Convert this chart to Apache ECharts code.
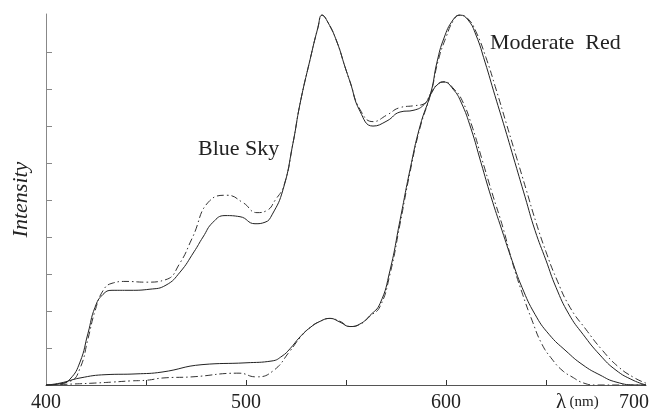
<!DOCTYPE html>
<html>
<head>
<meta charset="utf-8">
<script src="https://cdn.jsdelivr.net/npm/echarts@6/dist/echarts.min.js"></script>
<style>
  html, body { margin: 0; padding: 0; background: #fff; }
  #chart { width: 668px; height: 413px; }
</style>
</head>
<body>
<div id="chart"></div>
<script>
// Blue Sky, measured (solid)
const skyNm = [400, 407, 412, 417, 421, 424.5, 428.5, 433, 442, 452, 460, 467, 474, 478.5, 483.5, 489.5, 497, 504.5, 509.5, 513, 518.5, 523.5, 527, 532, 536, 538, 541, 545.5, 549.5, 552, 557, 563.5, 570.5, 577, 584, 589, 592.5, 595.5, 599, 603.5, 607.5, 612.5, 617.5, 622.5, 628, 633, 638, 644.5, 651.5, 660, 668.5, 677, 685, 695.5, 700]
const skyVal = [0, 0.03, 0.16, 0.62, 1.4, 2.1, 2.45, 2.56, 2.56, 2.59, 2.7, 3.05, 3.6, 4.0, 4.4, 4.58, 4.55, 4.36, 4.4, 4.6, 5.28, 6.54, 7.6, 8.79, 9.67, 10.0, 9.8, 9.27, 8.6, 8.2, 7.4, 7.0, 7.14, 7.38, 7.43, 7.58, 7.87, 8.11, 8.19, 8.0, 7.65, 6.93, 6.01, 5.09, 4.18, 3.37, 2.64, 1.91, 1.37, 0.92, 0.54, 0.27, 0.08, 0, 0]

// Blue Sky, dash-dot
const skyNm2 = [400, 412, 417, 421, 424.5, 428.5, 433, 440, 450, 460, 467, 473, 482, 490.5, 498.5, 505.5, 510.5, 514.5, 519, 523.5, 527, 532, 536, 538, 541, 545.5, 549.5, 552, 557, 563.5, 570.5, 577, 584, 589, 592.5, 595.5, 599, 604, 608, 613, 618, 623, 628.5, 633, 638, 643, 648, 653, 658, 663, 669, 675, 700]
const skyVal2 = [0, 0.1, 0.45, 1.25, 2.0, 2.55, 2.75, 2.8, 2.78, 2.85, 3.3, 3.96, 4.99, 5.13, 4.93, 4.66, 4.72, 4.99, 5.4, 6.54, 7.6, 8.79, 9.67, 10.0, 9.8, 9.27, 8.6, 8.2, 7.45, 7.12, 7.3, 7.5, 7.55, 7.6, 7.9, 8.12, 8.2, 8.0, 7.7, 7.0, 6.1, 5.2, 4.25, 3.35, 2.5, 1.75, 1.1, 0.7, 0.4, 0.22, 0.05, 0, 0]

// Moderate Red, measured (solid)
const redNm = [400, 407, 417, 430, 445, 458, 478, 500, 513, 518, 522, 527, 532, 537, 542, 547, 552, 557, 562, 567, 572, 577, 582, 587, 592.5, 595.5, 599, 603.5, 607, 611, 615, 619.5, 624.5, 629.5, 634.5, 639.5, 644.5, 650, 655, 661.5, 668.5, 677, 685, 693.5, 700]
const redVal = [0, 0.05, 0.19, 0.28, 0.3, 0.35, 0.55, 0.6, 0.65, 0.78, 0.98, 1.3, 1.55, 1.72, 1.8, 1.7, 1.58, 1.65, 1.88, 2.2, 3.1, 4.45, 5.82, 7.0, 7.92, 8.73, 9.38, 9.87, 10.0, 9.87, 9.46, 8.73, 7.82, 6.93, 6.01, 5.09, 4.18, 3.37, 2.64, 1.91, 1.37, 0.81, 0.4, 0.13, 0]

// Moderate Red, dash-dot
const redNm2 = [400, 415, 423.5, 433.5, 442, 450.5, 458.5, 473, 496.5, 505, 513.5, 522, 527, 532, 537, 542, 547, 552, 557, 562, 567, 572, 577, 582, 587, 592.5, 596, 600, 604, 607, 611, 615, 620, 625, 630, 635, 640, 645, 650, 655, 662, 670, 678, 686, 694, 700]
const redVal2 = [0, 0.03, 0.05, 0.08, 0.11, 0.13, 0.19, 0.22, 0.32, 0.22, 0.38, 0.92, 1.28, 1.55, 1.72, 1.8, 1.72, 1.58, 1.64, 1.86, 2.12, 3.0, 4.35, 5.75, 6.95, 7.9, 8.75, 9.4, 9.88, 10.0, 9.9, 9.55, 8.85, 8.0, 7.1, 6.2, 5.3, 4.4, 3.6, 2.9, 2.1, 1.5, 0.95, 0.5, 0.2, 0.05]

const xLabels = [400, 500, 600, 700]
const xTicks = [450, 500, 550, 600, 650]
const yTicks = [1, 2, 3, 4, 5, 6, 7, 8, 9]

const serif = '"Liberation Serif", "DejaVu Serif", serif'
const ink = '#222'

function pairs(xs, ys) {
    return xs.map((x, i) => [x, ys[i]])
}

function curve(name, xs, ys, dashed) {
    return {
        name,
        type: 'line',
        data: pairs(xs, ys),
        showSymbol: false,
        smooth: 0.5,
        silent: true,
        lineStyle: dashed
            ? { width: 1, color: '#333', type: [7, 3, 1.5, 3] }
            : { width: 1, color: ink },
    }
}

const chart = echarts.init(document.getElementById('chart'))
chart.setOption({
    animation: false,
    backgroundColor: '#fff',
    grid: { left: 46, right: 22, top: 14, bottom: 28 },
    xAxis: {
        type: 'value',
        min: 400,
        max: 700,
        interval: 50,
        axisLine: { lineStyle: { color: '#555', width: 1 } },
        axisTick: {
            inside: true,
            length: 5,
            customValues: xTicks,
            lineStyle: { color: '#333' },
        },
        axisLabel: {
            customValues: xLabels,
            margin: 8,
            fontFamily: serif,
            fontSize: 20,
            color: ink,
            formatter: (v) => (v === 700 ? '{r|700}' : String(v)),
            rich: { r: { fontFamily: serif, fontSize: 20, color: ink, padding: [0, 24, 0, 0] } },
        },
        splitLine: { show: false },
    },
    yAxis: {
        type: 'value',
        min: 0,
        max: 10.03,
        name: 'Intensity',
        nameLocation: 'middle',
        nameGap: 14,
        nameTextStyle: {
            fontFamily: serif,
            fontStyle: 'italic',
            fontSize: 22,
            color: ink,
        },
        axisLine: { show: true, lineStyle: { color: '#888', width: 1 } },
        axisTick: {
            show: true,
            inside: true,
            length: 6,
            customValues: yTicks,
            lineStyle: { color: '#888' },
        },
        axisLabel: { show: false },
        splitLine: { show: false },
    },
    graphic: [
        {
            type: 'text',
            left: 198,
            top: 138,
            style: { text: 'Blue Sky', fontFamily: serif, fontSize: 22, fill: ink },
        },
        {
            type: 'text',
            left: 490,
            top: 32,
            style: { text: 'Moderate  Red', fontFamily: serif, fontSize: 22, fill: ink },
        },
        {
            type: 'text',
            left: 556,
            top: 392,
            style: {
                text: '{l|λ} {u|(nm)}',
                rich: {
                    l: { fontFamily: serif, fontSize: 21, fill: ink },
                    u: { fontFamily: serif, fontSize: 15, fill: ink },
                },
            },
        },
    ],
    series: [
        curve('Blue Sky', skyNm, skyVal, false),
        curve('Blue Sky (dash-dot)', skyNm2, skyVal2, true),
        curve('Moderate Red', redNm, redVal, false),
        curve('Moderate Red (dash-dot)', redNm2, redVal2, true),
    ],
})
</script>
</body>
</html>
